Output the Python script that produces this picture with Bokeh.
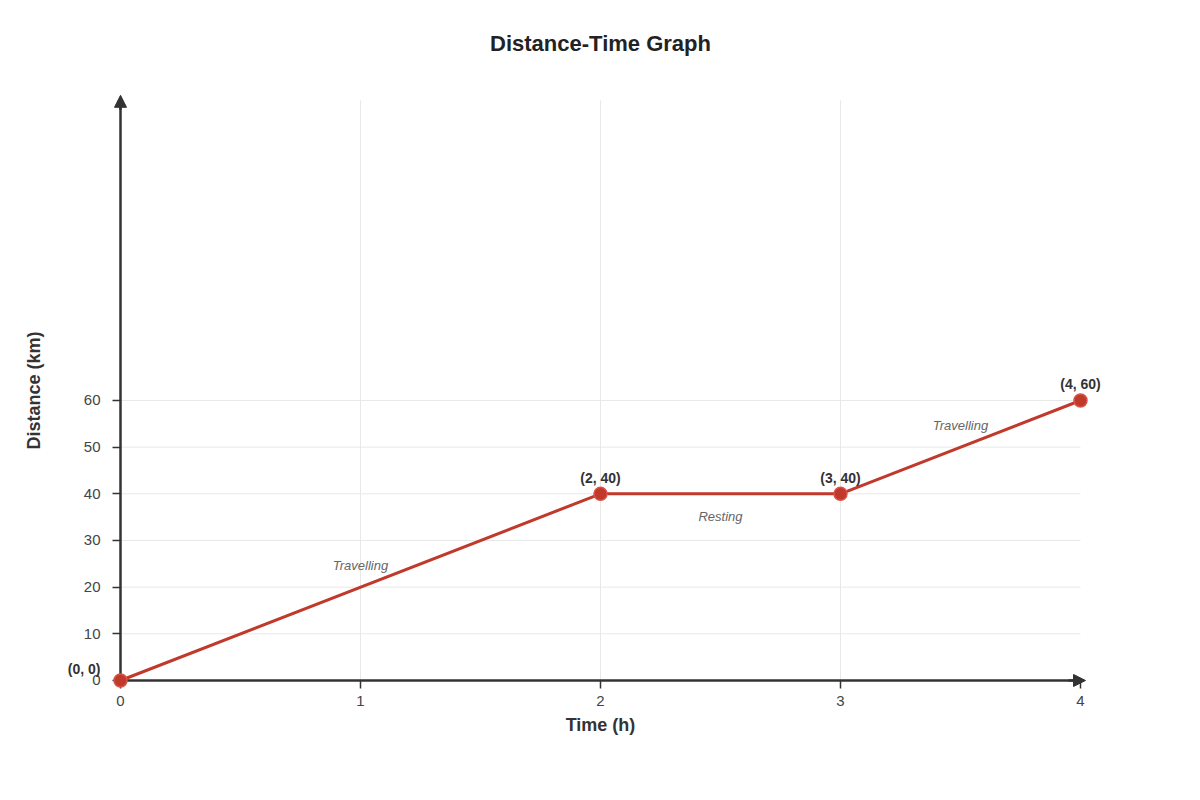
from bokeh.plotting import figure
from bokeh.models import Range1d, FixedTicker, Arrow, NormalHead, ColumnDataSource, LabelSet
from bokeh.core.properties import value
from bokeh.embed import file_html
from bokeh.resources import INLINE

# ---- data ----
time_h = [0, 2, 3, 4]
distance_km = [0, 40, 40, 60]
point_labels = ["(0, 0)", "(2, 40)", "(3, 40)", "(4, 60)"]
segment_labels = ["Travelling", "Resting", "Travelling"]
x_ticks = [0, 1, 2, 3, 4]
y_ticks = [0, 10, 20, 30, 40, 50, 60]

# ---- style / layout ----
FONT = "Liberation Sans"
RED = "#c0392b"
AXIS = "#333333"
GRID = "#e8e8e8"
W, H = 1190, 790
X_MAX = 4
Y_TOP = 124.29          # top of the drawn y axis / vertical gridlines

p = figure(width=W, height=H, output_backend="svg", toolbar_location=None,
           x_range=Range1d(-0.416667, 4.416667), y_range=Range1d(-21.4286, 132.857),
           min_border_left=20, min_border_right=10, min_border_top=60, min_border_bottom=10,
           title="Distance-Time Graph")
p.outline_line_color = None
p.background_fill_color = "white"
p.border_fill_color = "white"
p.xgrid.visible = False
p.ygrid.visible = False

p.title.align = "center"
p.title.text_font = FONT
p.title.text_font_size = "22px"
p.title.text_font_style = "bold"
p.title.text_color = "#222222"

for ax in (p.xaxis[0], p.yaxis[0]):
    ax.fixed_location = 0
    ax.axis_line_color = AXIS
    ax.axis_line_width = 2.5
    ax.major_tick_line_color = AXIS
    ax.major_tick_line_width = 1.5
    ax.major_tick_out = 8
    ax.major_tick_in = 0
    ax.minor_tick_line_color = None
    ax.major_label_text_font = FONT
    ax.major_label_text_font_size = "15px"
    ax.major_label_text_color = "#444444"
    ax.axis_label_text_font = FONT
    ax.axis_label_text_font_size = "18px"
    ax.axis_label_text_font_style = "bold"
    ax.axis_label_text_color = "#333333"

p.xaxis.bounds = (0, X_MAX)
p.yaxis.bounds = (0, Y_TOP)
p.xaxis.ticker = FixedTicker(ticks=x_ticks)
p.yaxis.ticker = FixedTicker(ticks=y_ticks)
p.xaxis.axis_label = "Time (h)"
p.yaxis.axis_label = "Distance (km)"
p.xaxis.major_label_standoff = 8
p.yaxis.major_label_standoff = 12
p.xaxis.axis_label_standoff = 5
p.yaxis.axis_label_standoff = 37

# gridlines (limited to the plotted region)
vx = x_ticks[1:-1]
p.segment(x0=vx, y0=[0] * len(vx), x1=vx, y1=[Y_TOP] * len(vx),
          line_color=GRID, line_width=1, level="underlay")
hy = y_ticks[1:]
p.segment(x0=[0] * len(hy), y0=hy, x1=[X_MAX] * len(hy), y1=hy,
          line_color=GRID, line_width=1, level="underlay")

# arrow heads on axes
p.add_layout(Arrow(x_start=0, y_start=Y_TOP - 2, x_end=0, y_end=125.4,
                   line_color=AXIS, line_width=2.5,
                   end=NormalHead(size=12, fill_color=AXIS, line_color=AXIS)))
p.add_layout(Arrow(x_start=X_MAX - 0.05, y_start=0, x_end=4.021, y_end=0,
                   line_color=AXIS, line_width=2.5,
                   end=NormalHead(size=12, fill_color=AXIS, line_color=AXIS)))

# line and points
src = ColumnDataSource(dict(x=time_h, y=distance_km, label=point_labels,
                            align=["right", "center", "center", "center"],
                            xo=[-20, 0, 0, 0], yo=[3, 8, 8, 8]))
p.line("x", "y", source=src, line_color=RED, line_width=3)
p.scatter("x", "y", source=src, size=13, fill_color=RED, line_color="#d9534a",
          line_width=1.5, level="overlay")

p.add_layout(LabelSet(x="x", y="y", text="label", source=src, x_offset="xo", y_offset="yo",
                      text_align="align", text_baseline="bottom",
                      text_font=value(FONT), text_font_size="14px", text_font_style="bold",
                      text_color="#333333"))

# segment labels at segment midpoints
mx = [(time_h[i] + time_h[i + 1]) / 2 for i in range(len(segment_labels))]
my = [(distance_km[i] + distance_km[i + 1]) / 2 for i in range(len(segment_labels))]
seg_src = ColumnDataSource(dict(x=mx, y=my, label=segment_labels, yo=[22, -23, 22]))
p.add_layout(LabelSet(x="x", y="y", text="label", source=seg_src, y_offset="yo",
                      text_align="center", text_baseline="middle",
                      text_font=value(FONT), text_font_size="13px", text_font_style="italic",
                      text_color="#666666"))

open("out.html", "w").write(file_html(p, INLINE))
